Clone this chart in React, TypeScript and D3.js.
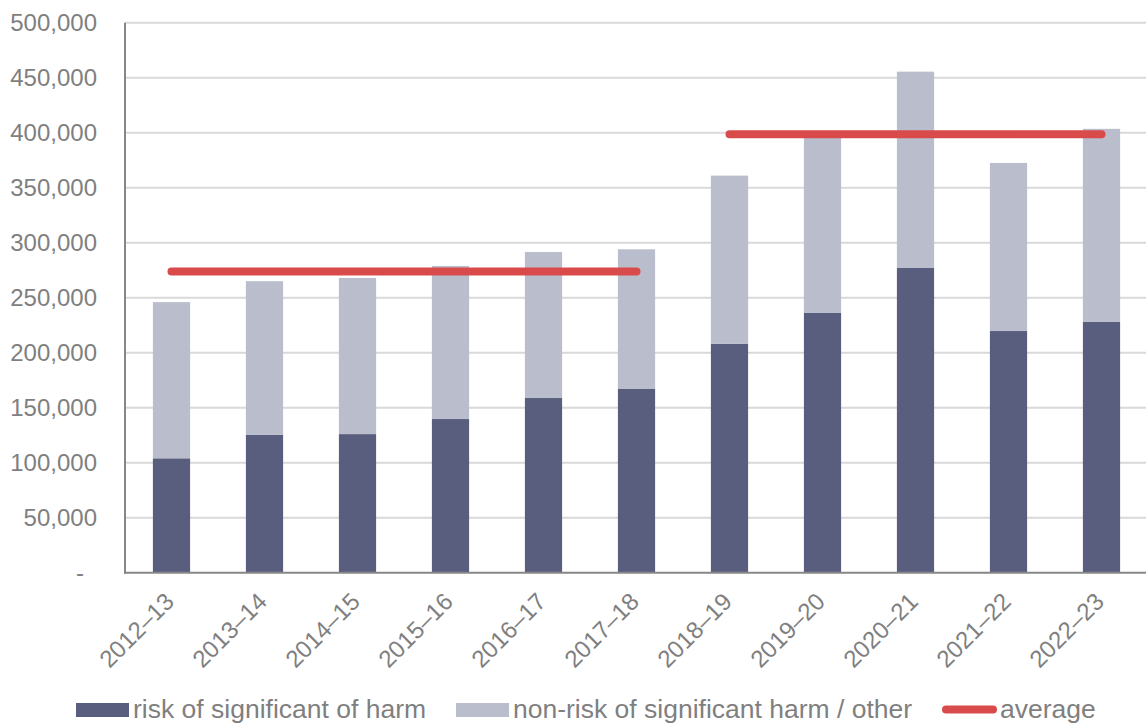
import React from "react";
import * as d3 from "d3";

// Financial years shown on the x axis
const years = [
  "2012–13", "2013–14", "2014–15", "2015–16", "2016–17", "2017–18",
  "2018–19", "2019–20", "2020–21", "2021–22", "2022–23",
];

// Reports assessed as a risk of significant harm
const riskOfHarm = [
  104000, 125500, 126000, 139700, 158800, 167000,
  208000, 236400, 277000, 219700, 228000,
];

// Reports not assessed as a risk of significant harm / other
const otherReports = [
  142000, 139500, 142000, 139100, 132700, 127000,
  153000, 163600, 178500, 152800, 175500,
];

// Periods over which the average total is drawn
const averagePeriods = [
  ["2012–13", "2017–18"],
  ["2018–19", "2022–23"],
];

const yTicks = [0, 50000, 100000, 150000, 200000, 250000, 300000, 350000, 400000, 450000, 500000];

const legendLabels = [
  "risk of significant of harm",
  "non-risk of significant harm / other",
  "average",
];

const W = 1146;
const H = 725;
const FONT = "'Liberation Sans', Arial, Helvetica, sans-serif";
const DARK = "#5a5e7e";
const LIGHT = "#b9bdcc";
const RED = "#d94b4a";
const TEXT = "#7f7f7f";

export default function App() {
  const x = d3
    .scaleBand<string>()
    .domain(years)
    .range([125, 1148])
    .paddingInner(0.6)
    .paddingOuter(0.3);

  const y = d3.scaleLinear().domain([0, 500000]).range([572.7, 22.7]);

  const rows = years.map((yr, i) => ({
    year: yr,
    risk: riskOfHarm[i],
    other: otherReports[i],
  }));

  const stacked = d3.stack<any>().keys(["risk", "other"])(rows);
  const fills = [DARK, LIGHT];

  const totals = rows.map((r) => r.risk + r.other);
  const averages = averagePeriods.map(([a, b]) => {
    const i0 = years.indexOf(a);
    const i1 = years.indexOf(b);
    const mean = d3.mean(totals.slice(i0, i1 + 1)) as number;
    return { from: a, to: b, mean };
  });

  const bw = x.bandwidth();
  const cx = (yr: string) => (x(yr) as number) + bw / 2;
  const fmt = d3.format(",");

  return (
    <svg
      width={W}
      height={H}
      style={{ position: "absolute", left: 0, top: 0, background: "#fff" }}
      fontFamily={FONT}
    >
      {/* gridlines */}
      {yTicks.filter((t) => t > 0).map((t) => (
        <line key={t} x1={125} x2={W} y1={y(t)} y2={y(t)} stroke="#d9d9d9" strokeWidth={2} />
      ))}

      {/* y tick labels */}
      {yTicks.map((t) => (
        <text
          key={"l" + t}
          x={t === 0 ? 84 : 97}
          y={y(t)}
          dy="0.36em"
          textAnchor="end"
          fontSize={24}
          fill={TEXT}
        >
          {t === 0 ? "-" : fmt(t)}
        </text>
      ))}

      {/* stacked bars */}
      {stacked.map((series, si) =>
        series.map((d: any) => (
          <rect
            key={si + "-" + d.data.year}
            x={x(d.data.year)}
            y={y(d[1])}
            width={bw}
            height={y(d[0]) - y(d[1])}
            fill={fills[si]}
          />
        ))
      )}

      {/* axes */}
      <line x1={125} x2={125} y1={y(500000)} y2={y(0) + 1} stroke="#878787" strokeWidth={2} />
      <line x1={124} x2={W} y1={y(0)} y2={y(0)} stroke="#878787" strokeWidth={2} />

      {/* average lines */}
      {averages.map((a) => (
        <line
          key={a.from}
          x1={cx(a.from)}
          x2={cx(a.to)}
          y1={y(a.mean)}
          y2={y(a.mean)}
          stroke={RED}
          strokeWidth={8}
          strokeLinecap="round"
        />
      ))}

      {/* x tick labels */}
      {years.map((yr) => (
        <text
          key={"x" + yr}
          transform={`translate(${cx(yr) + 4},${603}) rotate(-45)`}
          textAnchor="end"
          fontSize={24}
          fill={TEXT}
        >
          {yr}
        </text>
      ))}

      {/* legend */}
      <g fontSize={26.5} fill={TEXT}>
        <rect x={76} y={703} width={53} height={14} fill={DARK} />
        <text x={133} y={718}>{legendLabels[0]}</text>
        <rect x={456} y={703} width={53} height={14} fill={LIGHT} />
        <text x={513} y={718}>{legendLabels[1]}</text>
        <line x1={946} x2={993} y1={709.5} y2={709.5} stroke={RED} strokeWidth={8} strokeLinecap="round" />
        <text x={1000} y={718}>{legendLabels[2]}</text>
      </g>
    </svg>
  );
}
